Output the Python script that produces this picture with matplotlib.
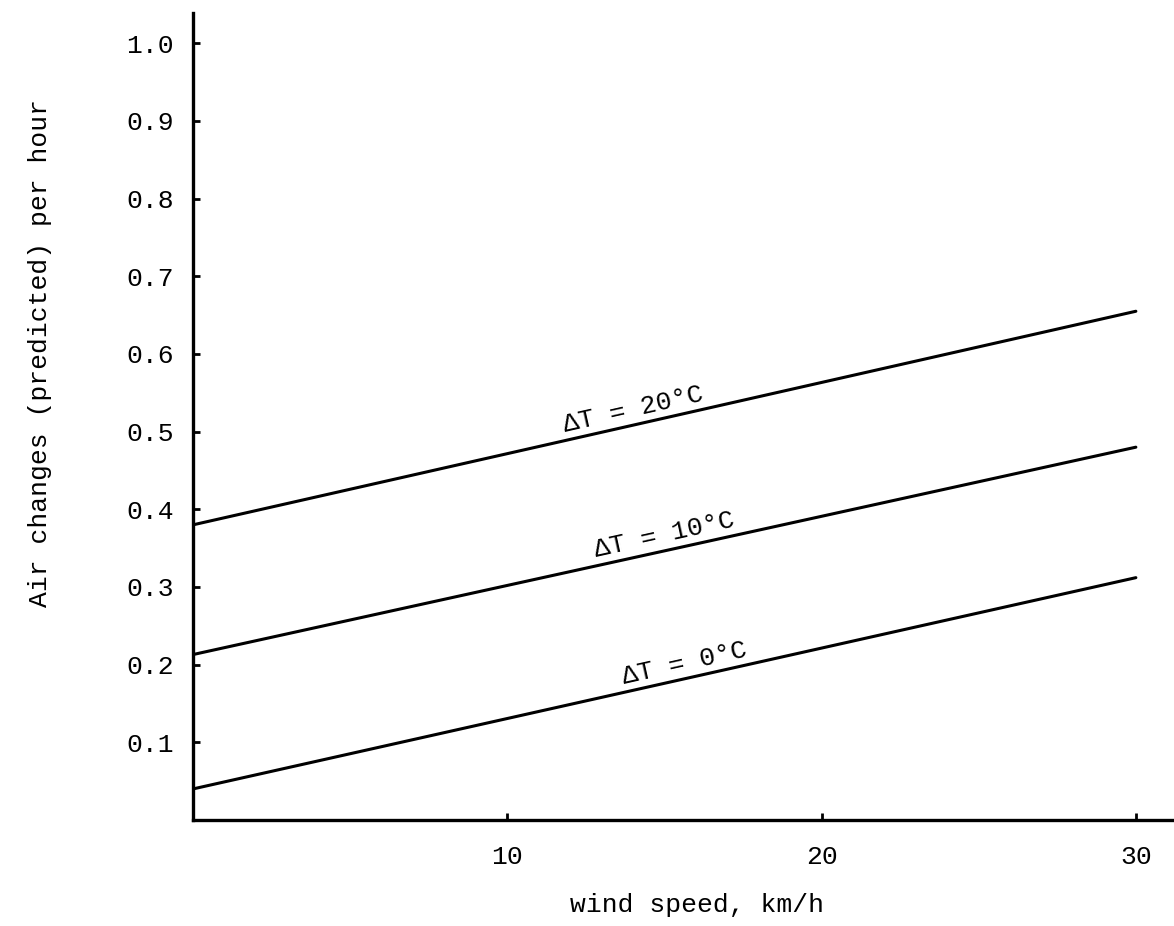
import numpy as np
import matplotlib
matplotlib.use("Agg")
import matplotlib.pyplot as plt

# Data
wind_speed = [0, 30]
dt20 = [0.38, 0.655]
dt10 = [0.213, 0.48]
dt0 = [0.04, 0.312]
series = [("\u0394T = 20\u00b0C", dt20, 14.1),
          ("\u0394T = 10\u00b0C", dt10, 15.1),
          ("\u0394T = 0\u00b0C", dt0, 15.75)]
y_ticks = [0.1, 0.2, 0.3, 0.4, 0.5, 0.6, 0.7, 0.8, 0.9, 1.0]
y_ticklabels = ["0.1", "0.2", "0.3", "0.4", "0.5", "0.6", "0.7", "0.8", "0.9", "1.0"]
x_ticks = [10, 20, 30]
x_ticklabels = ["10", "20", "30"]

FONT = ["Liberation Mono", "DejaVu Sans Mono"]
FS = 19

fig = plt.figure(figsize=(11.74, 9.26), dpi=100)
W, H = 1174, 926
left, right, top, bottom = 193, 1172, 13, 820
ax = fig.add_axes([left / W, (H - bottom) / H, (right - left) / W, (bottom - top) / H])
ax.set_xlim(0, 31.15)
ax.set_ylim(0, 1.039)

for label, vals, xl in series:
    ax.plot(wind_speed, vals, color="black", lw=2.2, solid_capstyle="round")

for s in ["top", "right"]:
    ax.spines[s].set_visible(False)
for s in ["left", "bottom"]:
    ax.spines[s].set_linewidth(2.4)

ax.set_yticks(y_ticks)
ax.set_yticklabels(y_ticklabels, fontfamily=FONT, fontsize=FS)
ax.set_xticks(x_ticks)
ax.set_xticklabels(x_ticklabels, fontfamily=FONT, fontsize=FS)
ax.tick_params(axis="y", direction="in", length=5, width=2, pad=14)
ax.tick_params(axis="x", direction="in", length=5, width=2, pad=18)

fig.canvas.draw()
for label, vals, xl in series:
    slope = (vals[1] - vals[0]) / (wind_speed[1] - wind_speed[0])
    yl = vals[0] + slope * (xl - wind_speed[0])
    p1 = ax.transData.transform((wind_speed[0], vals[0]))
    p2 = ax.transData.transform((wind_speed[1], vals[1]))
    ang = np.degrees(np.arctan2(p2[1] - p1[1], p2[0] - p1[0]))
    nx, ny = -np.sin(np.radians(ang)), np.cos(np.radians(ang))
    off = 2.5
    ax.annotate(label, xy=(xl, yl), xytext=(nx * off, ny * off), textcoords="offset points",
                rotation=ang, rotation_mode="anchor", ha="center", va="bottom",
                fontfamily=FONT, fontsize=FS)

fig.text(40 / W, (H - 353) / H, "Air changes (predicted) per hour", rotation=90,
         ha="center", va="center", fontfamily=FONT, fontsize=FS)
fig.text(697 / W, (H - 905) / H, "wind speed, km/h", ha="center", va="center",
         fontfamily=FONT, fontsize=FS)

fig.savefig("out.png", dpi=100)
